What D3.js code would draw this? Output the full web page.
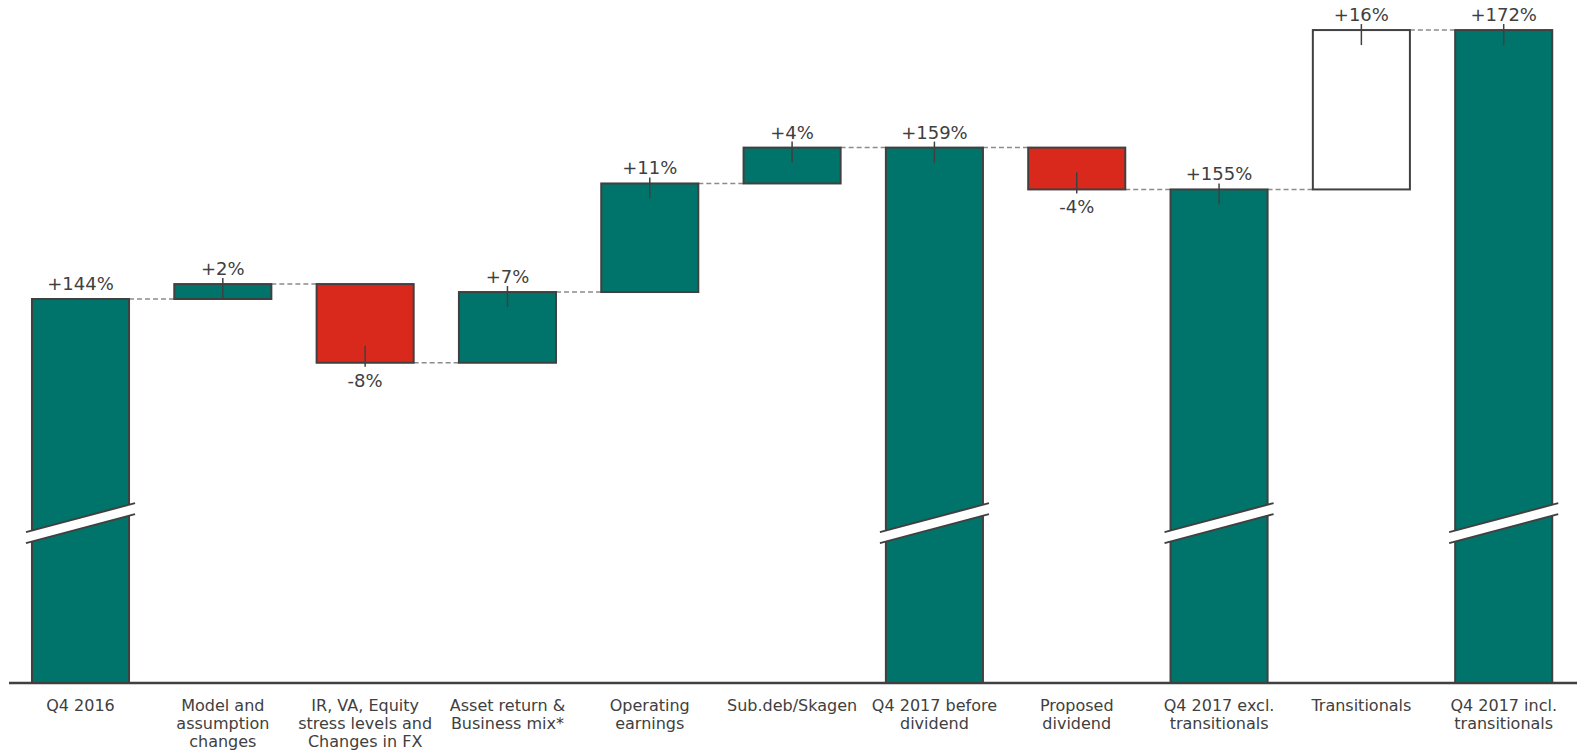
<!DOCTYPE html>
<html>
<head>
<meta charset="utf-8">
<script src="https://cdn.jsdelivr.net/npm/d3@7"></script>
<style>
  body { margin: 0; background: #fff; }
  svg { display: block; font-family: "DejaVu Sans", Verdana, sans-serif; }
</style>
</head>
<body>
<div id="chart"></div>
<script>
// waterfall: solvency ratio Q4 2016 -> Q4 2017

var categories = ["Q4 2016", "Model and\nassumption\nchanges", "IR, VA, Equity\nstress levels and\nChanges in FX",
  "Asset return &\nBusiness mix*", "Operating\nearnings", "Sub.deb/Skagen", "Q4 2017 before\ndividend",
  "Proposed\ndividend", "Q4 2017 excl.\ntransitionals", "Transitionals", "Q4 2017 incl.\ntransitionals"];
var values = [144, 1.5, -7.9, 7.1, 10.9, 3.6, 159.2, -4.2, 155.0, 16.0, 171.0];
var kinds = ["total", "step", "step", "step", "step", "step", "total", "step", "total", "transitional", "total"];
var valueLabels = ["+144%", "+2%", "-8%", "+7%", "+11%", "+4%", "+159%", "-4%", "+155%", "+16%", "+172%"];

var width = 1577, height = 753;
var axisY = 683;
var yMin = 105.45, yMax = 172;   // axis is broken, bars start below the visible range
var breakValue = 121.5;

var teal = "#00746b", red = "#d9291c", dark = "#404040";

var svg = d3.select("#chart").append("svg")
    .attr("width", width)
    .attr("height", height);

var x = d3.scaleBand()
    .domain(categories)
    .range([9.2, 1575])
    .paddingInner(0.318)
    .paddingOuter(0.16);

var y = d3.scaleLinear()
    .domain([yMin, yMax])
    .range([axisY, 20.1]);

// running totals
var running = 0;
var bars = categories.map(function(c, i) {
  var d = {cat: c, kind: kinds[i], label: valueLabels[i], v: values[i], idx: i};
  if (kinds[i] == "total") {
    d.lo = yMin; d.hi = values[i]; running = values[i]; d.end = running;
  } else {
    var s = running;
    running = running + values[i];
    d.lo = Math.min(s, running); d.hi = Math.max(s, running); d.end = running;
  }
  return d;
});

function fillFor(d) {
  if (d.kind == "transitional") return "#fff";
  if (d.kind == "step" && d.v < 0) return red;
  return teal;
}

// dashed connectors
svg.append("g").selectAll("line")
    .data(bars.slice(0, -1))
  .enter().append("line")
    .attr("x1", function(d) { return x(d.cat) + x.bandwidth(); })
    .attr("x2", function(d) { return x(categories[d.idx + 1]); })
    .attr("y1", function(d) { return y(d.end); })
    .attr("y2", function(d) { return y(d.end); })
    .attr("stroke", "#8c8c8c")
    .attr("stroke-width", 1.5)
    .attr("stroke-dasharray", "5,3");

// bars
svg.append("g").selectAll("rect")
    .data(bars)
  .enter().append("rect")
    .attr("x", function(d) { return x(d.cat); })
    .attr("width", x.bandwidth())
    .attr("y", function(d) { return y(d.hi); })
    .attr("height", function(d) { return y(d.lo) - y(d.hi); })
    .attr("fill", fillFor)
    .attr("stroke", dark)
    .attr("stroke-width", 2);

// axis break marks on total bars
var brk = svg.append("g").selectAll("g")
    .data(bars.filter(function(d) { return d.kind == "total"; }))
  .enter().append("g");

var slope = 29 / 109, gap = 11, ext = 6;
function bandPts(d, off) {
  var x0 = x(d.cat) - ext, x1 = x(d.cat) + x.bandwidth() + ext;
  var cx = x(d.cat) + x.bandwidth() / 2, cy = y(breakValue);
  return [[x0, cy + (cx - x0) * slope + off], [x1, cy - (x1 - cx) * slope + off]];
}
brk.append("path")
    .attr("fill", "#fff")
    .attr("d", function(d) {
      var a = bandPts(d, -gap / 2), b = bandPts(d, gap / 2);
      return "M" + a[0] + "L" + a[1] + "L" + b[1] + "L" + b[0] + "Z";
    });
[-gap / 2, gap / 2].forEach(function(off) {
  brk.append("line")
      .attr("x1", function(d) { return bandPts(d, off)[0][0]; })
      .attr("y1", function(d) { return bandPts(d, off)[0][1]; })
      .attr("x2", function(d) { return bandPts(d, off)[1][0]; })
      .attr("y2", function(d) { return bandPts(d, off)[1][1]; })
      .attr("stroke", dark)
      .attr("stroke-width", 2);
});

// little ticks at the label edge
svg.append("g").selectAll("line")
    .data(bars.filter(function(d) { return d.idx > 0; }))
  .enter().append("line")
    .attr("x1", function(d) { return x(d.cat) + x.bandwidth() / 2; })
    .attr("x2", function(d) { return x(d.cat) + x.bandwidth() / 2; })
    .attr("y1", function(d) { return d.v < 0 ? y(d.lo) + 4 : y(d.hi) - 6; })
    .attr("y2", function(d) { return d.v < 0 ? y(d.lo) - 17 : y(d.hi) + 15; })
    .attr("stroke", dark)
    .attr("stroke-width", 1.5);

// value labels
svg.append("g").selectAll("text")
    .data(bars)
  .enter().append("text")
    .attr("x", function(d) { return x(d.cat) + x.bandwidth() / 2; })
    .attr("y", function(d) { return d.v < 0 ? y(d.lo) + 24 : y(d.hi) - 9; })
    .attr("text-anchor", "middle")
    .attr("font-size", 18)
    .attr("fill", dark)
    .text(function(d) { return d.label; });

// x axis
var axis = svg.append("g")
    .attr("transform", "translate(0," + axisY + ")")
    .call(d3.axisBottom(x).tickSize(0).tickFormat(""))
    .attr("font-family", null)
    .attr("font-size", null);
axis.select(".domain")
    .attr("d", "M9,0H" + width)
    .attr("stroke", dark)
    .attr("stroke-width", 2.5);

axis.selectAll(".tick text").remove();
axis.selectAll(".tick").append("text")
    .attr("text-anchor", "middle")
    .attr("font-size", 16)
    .attr("fill", dark)
    .selectAll("tspan")
    .data(function(d) { return d.split("\n"); })
  .enter().append("tspan")
    .attr("x", 0)
    .attr("y", function(d, i) { return 27.5 + i * 18.4; })
    .text(function(d) { return d; });
</script>
</body>
</html>
